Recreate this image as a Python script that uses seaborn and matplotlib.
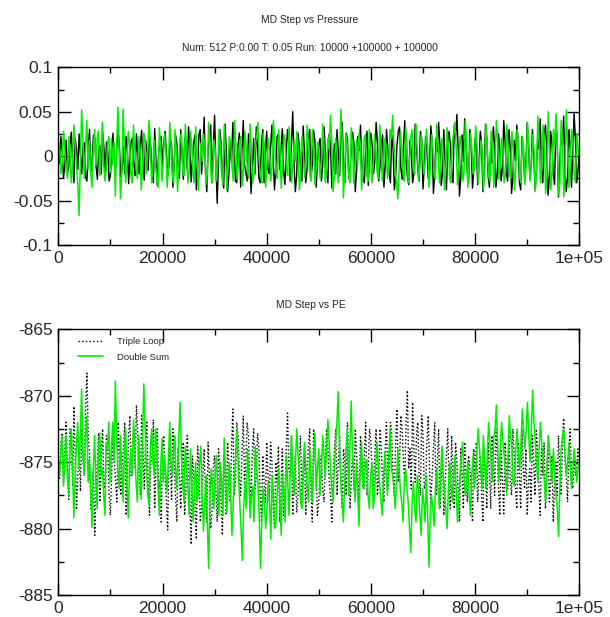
import numpy as np
import pandas as pd
import matplotlib
matplotlib.use("Agg")
import matplotlib.pyplot as plt
from matplotlib.lines import Line2D
from matplotlib.ticker import MultipleLocator, FixedLocator, FixedFormatter
import seaborn as sns

# ---------------- data ----------------
title_top = "MD Step vs Pressure"
subtitle_top = "Num: 512 P:0.00 T: 0.05 Run: 10000 +100000 + 100000"
title_bottom = "MD Step vs PE"
legend_labels = ["Triple Loop", "Double Sum"]

x_ticks = [0, 20000, 40000, 60000, 80000, 100000]
x_tick_labels = ["0", "20000", "40000", "60000", "80000", "1e+05"]
p_ticks = [-0.1, -0.05, 0, 0.05, 0.1]
p_tick_labels = ["-0.1", "-0.05", "0", "0.05", "0.1"]
pe_ticks = [-885, -880, -875, -870, -865]
pe_tick_labels = ["-885", "-880", "-875", "-870", "-865"]

# pressure, in thousandths
pressure_triple_milli = [
    0, -8, 22, 5, -25, -10, 18, -20, -12, 14, 27, -6, -30, 20, 8, -15, 25, 3, -20, 12, 15, -24, -28, 10, 30, -18, -5, 24, 20, -12, -26, 6, 12, -20, 28, 10, -18, 16, 5, -28, -22,
    4, 26, -5, -15, 12, 30, 8, -24, -14, 10, -20, 22, 9, -31, -2, 17, 20, -8, -22, 25, 2, -20, 14, 29, -12, -27, 18, 6, -16, 24, 10, -18, -30, 31, -6, -33, 4, 14, 22, -10,
    15, 28, 5, -22, -10, 19, 12, -35, -8, 24, 15, -12, -25, 30, 4, -26, 20, 9, -15, 33, 12, -29, -5, 16, 24, -38, -10, 25, 30, -20, 6, 44, -18, -40, 8, 22, 35, -30, 10, 46,
    -12, -53, -5, 30, 14, -22, -36, 36, 6, -40, -20, 18, -8, 38, 10, -28, -30, 12, 26, -35, 5, 40, -10, -18, -28, 25, 8, -42, -15, 20, -20, 33, 12, -25, -30, 15, 30, -30, 5, 28,
    -15, -20, 10, 35, -5, -38, -12, 22, 25, -15, 8, 31, -18, -32, 6, 30, 14, -28, 15, 50, -8, -40, -22, 26, 12, -12, -28, 34, 5, -30, -14, 20, 30, -25, -10, 29, 18, -35, -5, 12,
    20, -28, -10, 33, 6, -18, -30, 25, 12, -36, -8, 14, -20, 30, 5, -22, 18, 38, -12, -30, 26, 20, -25, -15, 10, 27, 14, -40, -18, 22, 6, 35, -8, -25, -30, 10, 28, -33, 4, 26,
    12, -20, -6, 38, 16, -28, -12, 15, 24, -35, -10, 30, 8, -18, -30, 24, 10, -38, -22, 12, 28, 33, -14, -26, 10, 40, -5, -22, -32, 18, 6, -30, -20, 36, 12, -15, -28, 28, 20, -37,
    -10, 22, 8, -25, -12, 34, 16, -42, -20, 20, 5, 38, 12, -33, -20, 30, -8, -38, 10, 28, 14, -20, -30, 35, 20, 47, 8, -45, -25, 24, -6, 42, 16, -18, -30, 30, 12, -36, -15, 20,
    10, -32, -10, 28, 14, -40, -18, 36, 20, -22, -35, 15, -8, 33, 12, -35, -20, 25, 6, -28, -14, 40, 16, -20, -28, 30, 10, -42, -24, 18, -5, 35, 20, -30, -38, 22, 8, -26, -10, 38,
    14, -25, -12, 30, 5, -38, -20, 20, 8, 42, -16, -30, 22, 35, 10, -44, -25, 28, 15, -20, -32, 38, 20, -46, -10, 25, 12, 45, -18, -40, -22, 30, 10, -35, 4, 48, 20, -30, -16, 5,
]
pressure_double_milli = [
    5, 14, -20, -8, 28, 10, -15, -25, 22, 6, -30, -12, 35, 15, -10, -30, -67, -10, 52, 20, -25, 8, 40, -15, 18, -20, -35, 5, 30, -10, 20, 28, -22, 6, 38, -8, -28, -15, 15, 22, -18,
    20, -10, 15, -45, 10, 55, 5, -48, -20, 53, 12, -30, -8, 28, 15, -20, -30, 35, 10, -15, -25, 22, 8, -38, -15, 26, 18, -20, 5, 40, 14, -30, -12, 18, -8, -25, -35, 32, 10, -28,
    -5, 25, 8, -35, -12, 38, 14, -22, -30, 30, 6, -40, -10, 20, 25, -15, -22, 36, 10, -30, -16, 28, 12, -20, -30, 33, 4, -38, -12, 15, -6, 25, 12, -32, -20, 38, 16, -24, -30, 18,
    8, -28, -10, 30, 12, -20, -32, 35, 5, -38, -10, 22, 16, -12, -28, 40, 12, -26, -8, 18, 22, -33, -15, 28, 10, -18, -25, 36, 6, -30, -20, 14, 20, 38, -5, -22, -30, 26, 12, -35,
    -8, 20, 6, -28, -10, 40, 15, -20, -25, 30, 10, -36, -12, 25, 18, -15, -22, 33, 8, -30, -10, 18, -6, 28, 12, -38, -20, 22, 5, -24, -8, 35, 14, -20, -28, 30, 10, -32, -14, 16,
    10, -25, -8, 36, 12, -30, -15, 20, 8, 46, 18, -40, -22, 20, 6, -30, -12, 53, 20, -47, -15, 25, 10, -20, -30, 32, 12, -30, -8, 18, -10, 26, 14, -38, -18, 20, 24, -22, -28, 30,
    5, -30, -12, 24, 8, -18, -25, 35, 12, -28, -6, 20, 10, -25, -10, 30, 20, 46, 14, -20, -30, -48, -12, 28, 10, -20, -28, 33, 15, -30, -8, 22, 30, -15, -20, 36, 8, -28, -12, 25,
    6, -20, -8, 30, 12, -35, -16, 24, 10, -18, -26, 36, 14, -30, -12, 20, 6, -38, -15, 32, 12, -25, -30, 15, 25, 38, 10, -32, -10, 22, 14, -28, -20, 40, 18, -35, -8, 26, 10, -20,
    -12, 34, 15, -30, -10, 18, 6, -38, -20, 36, 10, -22, -28, 28, 14, -35, -10, 40, 20, -26, -12, 20, 8, -30, -20, 35, 12, -18, -25, 28, 10, -38, -15, 30, 16, -24, -30, 22, 6, -32,
    -10, 38, 12, -28, -15, 24, 8, -40, -20, 45, 16, -30, -14, 35, 20, -42, -25, 50, 10, -38, -16, 30, 10, 48, 14, -44, -30, 40, 18, -46, -20, 52, 15, -35, -12, 30, 20, -20, -30, 25, 8, 0,
]

pe_triple = [
    -875.0, -876.2, -873.5, -872.8, -876.5, -874.0, -872.0, -875.5, -877.8, -872.5, -873.0, -876.8, -870.8, -874.5, -878.6, -876.0, -874.0, -877.2, -872.5, -875.0,
    -876.0, -871.0, -868.3, -873.0, -874.5, -878.5, -877.0, -875.5, -880.5, -877.0, -875.0, -872.8, -878.0, -874.5, -872.5, -876.5, -877.0, -873.0, -874.0, -877.5, -879.0,
    -875.5, -873.5, -874.8, -876.5, -878.0, -872.0, -874.5, -877.5, -875.0, -874.0, -872.0, -879.0, -876.5, -873.0, -871.5, -876.0, -874.0, -872.5, -875.5, -870.7,
    -873.0, -875.5, -877.5, -871.5, -874.0, -877.0, -873.5, -872.0, -876.5, -879.0, -875.0, -874.5, -871.8, -878.5, -875.0, -872.5, -877.0, -876.5, -879.5, -874.0,
    -873.0, -876.0, -878.0, -880.1, -874.0, -875.0, -877.8, -872.5, -875.0, -877.5, -879.5, -874.0, -876.0, -878.5, -875.0, -873.5, -879.0, -877.0, -873.0, -875.5,
    -878.0, -881.2, -874.5, -876.0, -878.5, -880.8, -873.8, -875.5, -879.5, -878.5, -876.0, -874.0, -877.5, -879.5, -873.5, -876.0, -880.0, -878.8, -875.5, -874.5,
    -877.0, -879.5, -874.0, -875.5, -878.0, -880.5, -874.5, -876.5, -879.0, -873.5, -875.5, -878.0, -874.0, -871.0, -877.5, -876.5, -872.0, -873.0, -876.0, -877.5,
    -874.5, -871.5, -876.8, -875.0, -872.0, -873.0, -876.5, -878.0, -874.0, -872.5, -877.0, -876.0, -872.8, -874.0, -877.5, -879.5, -874.5, -876.5, -878.0, -873.5,
    -876.0, -878.0, -873.5, -875.0, -878.5, -880.0, -875.0, -876.5, -873.8, -879.5, -877.0, -874.0, -879.0, -877.5, -874.0, -871.3, -875.5, -876.0, -873.0, -879.0,
    -876.0, -874.5, -878.8, -877.5, -875.0, -873.0, -877.8, -876.5, -874.0, -879.0, -875.5, -874.0, -872.5, -877.0, -879.5, -872.5, -874.5, -876.0, -879.0, -878.0,
    -875.0, -874.5, -877.0, -878.0, -875.0, -872.5, -874.0, -876.5, -877.5, -879.5, -876.0, -874.0, -872.5, -877.5, -875.0, -873.0, -876.5, -878.5, -874.0, -875.0,
    -877.5, -872.0, -875.0, -878.5, -876.0, -874.5, -877.0, -872.5, -874.5, -876.0, -878.0, -873.0, -875.5, -877.0, -874.5, -872.0, -877.5, -875.5, -872.5, -873.5,
    -876.0, -877.0, -874.5, -872.5, -877.5, -876.0, -872.5, -874.0, -876.5, -878.0, -874.0, -872.0, -877.0, -875.5, -872.0, -873.0, -876.0, -877.5, -873.5, -871.0,
    -876.5, -875.0, -871.5, -872.5, -875.0, -876.5, -872.0, -869.6, -875.5, -874.0, -877.0, -870.5, -874.0, -876.5, -873.0, -872.0, -876.0, -877.5, -871.5, -873.0,
    -877.0, -876.5, -873.5, -871.5, -875.5, -878.0, -876.0, -874.0, -872.0, -877.5, -875.0, -872.5, -878.5, -876.0, -874.0, -879.0, -876.5, -874.5, -872.5, -877.0,
    -878.5, -873.0, -876.0, -878.5, -873.5, -875.0, -877.0, -879.5, -874.0, -876.0, -878.5, -873.5, -876.0, -878.0, -874.5, -875.5, -877.0, -879.5, -874.0, -876.0,
    -873.5, -878.0, -876.0, -874.5, -877.5, -879.5, -874.0, -876.0, -878.5, -873.5, -875.5, -878.5, -873.0, -875.0, -877.5, -872.5, -874.5, -877.0, -879.0, -874.0,
    -876.5, -879.0, -873.5, -875.5, -877.0, -873.0, -876.5, -877.5, -872.5, -874.5, -877.0, -878.5, -873.5, -876.0, -878.5, -872.5, -875.5, -877.0, -874.0, -879.0,
    -876.5, -875.5, -878.0, -873.0, -875.0, -877.5, -872.5, -874.5, -877.0, -879.0, -874.0, -876.0, -873.5, -878.5, -876.0, -874.0, -878.0, -876.5, -874.5, -879.5,
    -876.5, -875.0, -877.5, -873.0, -875.5, -877.5, -874.0, -871.7, -875.0, -876.0, -878.0, -874.0, -872.5, -876.5, -877.0, -874.5, -876.0, -875.5, -874.0, -875.0,
]
pe_double = [
    -875.0, -876.0, -874.2, -873.0, -876.8, -875.0, -873.0, -876.0, -877.5, -874.0, -872.5, -875.5, -879.2, -876.0, -873.8, -872.0, -875.5, -873.0, -869.5, -874.0,
    -876.0, -873.0, -871.5, -876.5, -874.8, -877.0, -879.9, -875.5, -873.0, -876.5, -878.5, -874.0, -872.8, -876.0, -875.5, -877.5, -879.0, -873.5, -874.0, -872.0, -876.5,
    -874.0, -872.0, -875.0, -868.9, -873.0, -875.5, -877.0, -873.0, -875.5, -878.0, -874.0, -872.5, -876.5, -879.2, -875.5, -874.0, -876.0, -871.8, -874.0, -876.5,
    -878.0, -873.0, -875.5, -877.8, -873.5, -869.1, -872.5, -875.5, -877.5, -878.2, -874.0, -872.5, -875.0, -876.0, -872.5, -874.0, -877.0, -879.0, -875.5, -873.2,
    -876.5, -874.5, -876.0, -877.2, -874.5, -872.0, -875.0, -876.0, -874.0, -873.0, -877.0, -875.8, -873.0, -870.5, -874.5, -876.5, -878.0, -873.8, -875.5, -877.0,
    -879.0, -874.0, -876.5, -879.5, -877.0, -875.0, -878.0, -877.5, -875.0, -873.8, -877.5, -880.2, -878.0, -876.0, -879.5, -883.0, -878.0, -875.5, -877.0, -878.5,
    -876.0, -874.5, -877.0, -879.0, -875.0, -876.5, -879.0, -873.2, -875.5, -878.8, -877.0, -875.0, -877.5, -880.5, -878.0, -876.2, -874.0, -872.5, -876.0, -878.0,
    -880.0, -882.4, -878.5, -876.5, -878.5, -874.0, -876.0, -879.2, -877.5, -876.8, -879.5, -873.8, -875.5, -876.5, -879.0, -883.0, -879.5, -877.0, -878.0, -880.0,
    -878.5, -876.5, -878.0, -880.8, -876.0, -877.5, -880.0, -879.5, -877.0, -875.5, -878.0, -880.5, -876.0, -877.0, -879.5, -874.5, -876.5, -879.0, -875.5, -873.0,
    -876.0, -877.5, -875.0, -872.5, -874.5, -876.0, -878.0, -878.5, -875.0, -873.5, -875.5, -876.8, -878.0, -874.0, -876.0, -878.0, -874.5, -872.8, -877.0, -875.5,
    -874.0, -877.5, -875.5, -873.0, -874.5, -876.2, -874.0, -871.8, -873.5, -875.5, -877.0, -878.0, -875.5, -873.5, -872.0, -869.7, -874.0, -876.5, -878.0, -879.5,
    -876.5, -874.0, -872.5, -877.5, -874.0, -870.4, -874.5, -876.0, -878.0, -875.0, -877.5, -879.8, -875.5, -873.5, -876.5, -877.0, -875.0, -874.8, -877.5, -878.5,
    -876.0, -875.0, -878.5, -877.5, -875.0, -873.5, -875.5, -876.8, -878.0, -879.0, -876.0, -874.2, -876.0, -877.5, -874.5, -872.5, -875.5, -876.0, -877.0, -878.5,
    -876.5, -874.0, -875.5, -877.2, -878.0, -879.5, -876.5, -875.5, -877.0, -878.0, -880.0, -881.8, -878.0, -876.5, -878.5, -879.5, -876.0, -877.0, -879.0, -880.5,
    -877.0, -878.0, -879.5, -876.0, -879.0, -882.9, -879.0, -877.5, -878.5, -879.8, -877.0, -875.5, -877.0, -878.5, -876.0, -873.8, -876.0, -877.2, -878.5, -880.0,
    -877.0, -875.0, -876.5, -878.0, -876.0, -874.5, -877.0, -879.5, -877.5, -876.0, -874.5, -873.5, -876.0, -877.5, -876.5, -875.0, -877.5, -879.0, -876.0, -874.5,
    -877.0, -876.0, -874.0, -872.5, -874.0, -875.5, -877.0, -873.0, -875.0, -877.0, -874.5, -872.0, -873.5, -875.0, -876.5, -873.2, -872.5, -870.7, -873.5, -876.5,
    -874.0, -872.0, -873.5, -874.5, -876.0, -877.5, -874.5, -871.5, -873.0, -874.0, -876.5, -876.8, -874.0, -872.5, -874.5, -875.5, -873.5, -871.0, -872.5, -874.0,
    -872.5, -870.5, -873.0, -875.0, -872.5, -869.6, -872.0, -873.5, -875.0, -876.5, -874.0, -872.0, -873.5, -874.8, -876.5, -878.0, -875.5, -873.0, -874.0, -875.5,
    -876.5, -874.0, -876.0, -877.5, -878.5, -880.6, -877.0, -874.0, -873.0, -872.5, -874.5, -876.0, -875.0, -873.5, -875.5, -877.0, -875.5, -874.0, -875.0, -876.5,
    -875.5, -875.0,
]


def frame(values, scale=1.0):
    v = np.asarray(values, dtype=float) * scale
    return pd.DataFrame({"step": np.linspace(0, 100000, len(v)), "value": v})


df_p_triple = frame(pressure_triple_milli, 0.001)
df_p_double = frame(pressure_double_milli, 0.001)
df_pe_triple = frame(pe_triple)
df_pe_double = frame(pe_double)

# ---------------- style ----------------
sns.set_style("ticks")
plt.rcParams["font.family"] = ["Liberation Sans", "DejaVu Sans"]
plt.rcParams["axes.unicode_minus"] = False

W, H = 610, 617
fig = plt.figure(figsize=(W / 100, H / 100), dpi=100)
fig.patch.set_facecolor("white")

ax1 = fig.add_axes([58.3 / W, 1 - 245 / H, (579.3 - 58.3) / W, (245 - 67.3) / H])
ax2 = fig.add_axes([58.3 / W, 1 - 595 / H, (579.3 - 58.3) / W, (595 - 329.3) / H])

GREEN = "#00ee00"

sns.lineplot(data=df_p_triple, x="step", y="value", ax=ax1, color="black",
             lw=1.0, estimator=None, sort=False, legend=False)
sns.lineplot(data=df_p_double, x="step", y="value", ax=ax1, color=GREEN,
             lw=1.1, estimator=None, sort=False, legend=False)

sns.lineplot(data=df_pe_triple, x="step", y="value", ax=ax2, color="black",
             lw=1.0, linestyle=":", estimator=None, sort=False, legend=False)
sns.lineplot(data=df_pe_double, x="step", y="value", ax=ax2, color=GREEN,
             lw=1.1, estimator=None, sort=False, legend=False)

for ax, yt, ytl, ylim, yminor in [
    (ax1, p_ticks, p_tick_labels, (-0.1, 0.1), 0.025),
    (ax2, pe_ticks, pe_tick_labels, (-885, -865), 2.5),
]:
    ax.set_xlim(0, 100000)
    ax.set_ylim(*ylim)
    ax.xaxis.set_major_locator(FixedLocator(x_ticks))
    ax.xaxis.set_major_formatter(FixedFormatter(x_tick_labels))
    ax.xaxis.set_minor_locator(MultipleLocator(10000))
    ax.yaxis.set_major_locator(FixedLocator(yt))
    ax.yaxis.set_major_formatter(FixedFormatter(ytl))
    ax.yaxis.set_minor_locator(MultipleLocator(yminor))
    ax.set_xlabel("")
    ax.set_ylabel("")
    for s in ax.spines.values():
        s.set_visible(True)
        s.set_color("black")
        s.set_linewidth(1.0)
    ax.tick_params(which="both", direction="in", top=True, right=True,
                   color="black", width=1.0)
    ax.tick_params(which="major", length=9, labelsize=12.5, pad=4)
    ax.tick_params(which="minor", length=4)
    ax.set_facecolor("white")

fig.text(310 / W, 1 - 20 / H, title_top, ha="center", va="center", fontsize=7.4)
fig.text(310 / W, 1 - 48 / H, subtitle_top, ha="center", va="center", fontsize=7.4)
fig.text(311 / W, 1 - 305 / H, title_bottom, ha="center", va="center", fontsize=7.4)

handles = [Line2D([], [], color="black", lw=1.0, linestyle=":"),
           Line2D([], [], color=GREEN, lw=1.2)]
ax2.legend(handles, legend_labels, loc="upper left", bbox_to_anchor=(0.03, 0.985),
           frameon=False, fontsize=6.8, handlelength=2.7, handletextpad=1.5,
           labelspacing=0.7, borderaxespad=0)

fig.savefig("out.png", dpi=100, facecolor="white")
